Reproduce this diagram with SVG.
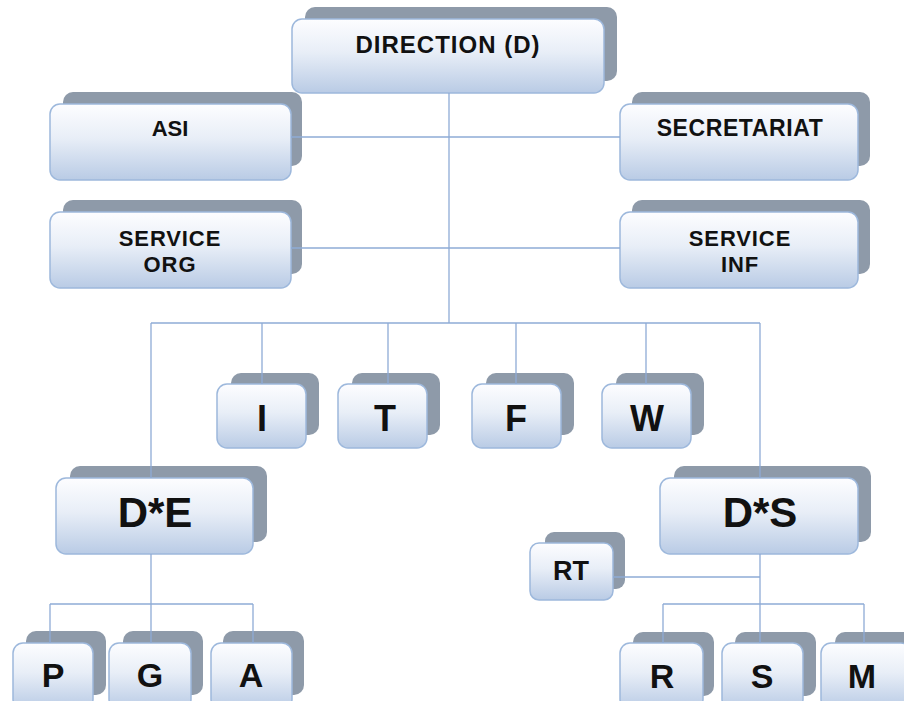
<svg xmlns="http://www.w3.org/2000/svg" width="904" height="701" viewBox="0 0 904 701">
<defs>
<linearGradient id="g" x1="0" y1="0" x2="0" y2="1">
<stop offset="0" stop-color="#fdfdff"/>
<stop offset="0.45" stop-color="#e8eef7"/>
<stop offset="1" stop-color="#b9cbe5"/>
</linearGradient>
<style>
.sh{fill:#8e9aa9}
.fr{fill:url(#g);stroke:#9db8dc;stroke-width:1.5}
.t{font-family:"Liberation Sans",Arial,sans-serif;font-weight:bold;fill:#111;text-anchor:middle}
.conn{stroke:#8eabd6;stroke-width:1.3;fill:none}
</style>
</defs>
<rect width="904" height="701" fill="#fff"/>

<g id="direction">
<rect class="sh" x="305" y="7" width="312" height="74" rx="10"/>
<rect class="fr" x="292" y="19" width="312" height="74" rx="10"/>
<text class="t" x="448" y="53" font-size="24" letter-spacing="1">DIRECTION (D)</text>
</g>
<g id="asi">
<rect class="sh" x="63" y="92" width="239" height="74" rx="10"/>
<rect class="fr" x="50" y="104" width="241" height="76" rx="10"/>
<text class="t" x="170" y="136" font-size="22">ASI</text>
</g>
<g id="secretariat">
<rect class="sh" x="632" y="92" width="238" height="74" rx="10"/>
<rect class="fr" x="620" y="104" width="238" height="76" rx="10"/>
<text class="t" x="740" y="136" font-size="23" letter-spacing="0.6">SECRETARIAT</text>
</g>
<g id="service-org">
<rect class="sh" x="63" y="200" width="239" height="74" rx="10"/>
<rect class="fr" x="50" y="212" width="241" height="76" rx="10"/>
<text class="t" x="170" y="246" font-size="22" letter-spacing="0.9">SERVICE</text>
<text class="t" x="170" y="272" font-size="22" letter-spacing="0.9">ORG</text>
</g>
<g id="service-inf">
<rect class="sh" x="632" y="200" width="238" height="74" rx="10"/>
<rect class="fr" x="620" y="212" width="238" height="76" rx="10"/>
<text class="t" x="740" y="246" font-size="22" letter-spacing="0.9">SERVICE</text>
<text class="t" x="740" y="272" font-size="22" letter-spacing="0.9">INF</text>
</g>

<g id="i">
<rect class="sh" x="231" y="373" width="88" height="62" rx="10"/>
<rect class="fr" x="217" y="384" width="89" height="64" rx="10"/>
<text class="t" x="262" y="431" font-size="36">I</text>
</g>
<g id="t">
<rect class="sh" x="352" y="373" width="88" height="62" rx="10"/>
<rect class="fr" x="338" y="384" width="89" height="64" rx="10"/>
<text class="t" x="385" y="431" font-size="36">T</text>
</g>
<g id="f">
<rect class="sh" x="486" y="373" width="88" height="62" rx="10"/>
<rect class="fr" x="472" y="384" width="89" height="64" rx="10"/>
<text class="t" x="516" y="431" font-size="36">F</text>
</g>
<g id="w">
<rect class="sh" x="616" y="373" width="88" height="62" rx="10"/>
<rect class="fr" x="602" y="384" width="89" height="64" rx="10"/>
<text class="t" x="647" y="431" font-size="36">W</text>
</g>

<g id="de">
<rect class="sh" x="70" y="466" width="197" height="76" rx="10"/>
<rect class="fr" x="56" y="478" width="197" height="76" rx="10"/>
<text class="t" x="155" y="527" font-size="42">D*E</text>
</g>
<g id="ds">
<rect class="sh" x="674" y="466" width="197" height="76" rx="10"/>
<rect class="fr" x="660" y="478" width="198" height="76" rx="10"/>
<text class="t" x="760" y="527" font-size="42">D*S</text>
</g>

<g id="rt">
<rect class="sh" x="545" y="532" width="80" height="57" rx="9"/>
<rect class="fr" x="530" y="543" width="83" height="57" rx="9"/>
<text class="t" x="571" y="580" font-size="27">RT</text>
</g>

<g id="p">
<rect class="sh" x="26" y="631" width="80" height="64" rx="10"/>
<rect class="fr" x="13" y="643" width="80" height="66" rx="10"/>
<text class="t" x="53" y="687" font-size="34">P</text>
</g>
<g id="g-node">
<rect class="sh" x="123" y="631" width="80" height="64" rx="10"/>
<rect class="fr" x="109" y="643" width="82" height="66" rx="10"/>
<text class="t" x="150" y="687" font-size="34">G</text>
</g>
<g id="a">
<rect class="sh" x="223" y="631" width="81" height="64" rx="10"/>
<rect class="fr" x="211" y="643" width="81" height="66" rx="10"/>
<text class="t" x="251" y="687" font-size="34">A</text>
</g>

<g id="r">
<rect class="sh" x="633" y="632" width="81" height="64" rx="10"/>
<rect class="fr" x="620" y="643" width="83" height="66" rx="10"/>
<text class="t" x="662" y="688" font-size="34">R</text>
</g>
<g id="s">
<rect class="sh" x="735" y="632" width="81" height="64" rx="10"/>
<rect class="fr" x="722" y="643" width="81" height="66" rx="10"/>
<text class="t" x="762" y="688" font-size="34">S</text>
</g>
<g id="m">
<rect class="sh" x="835" y="632" width="81" height="64" rx="10"/>
<rect class="fr" x="821" y="643" width="90" height="66" rx="10"/>
<text class="t" x="862" y="688" font-size="34">M</text>
</g>

<g id="connectors" class="conn">
<path d="M449 93V323"/>
<path d="M291 137H620"/>
<path d="M291 248H620"/>
<path d="M151 323H760"/>
<path d="M151 323V478"/>
<path d="M262 323V384"/>
<path d="M388 323V384"/>
<path d="M516 323V384"/>
<path d="M646 323V384"/>
<path d="M760 323V478"/>
<path d="M151 554V643"/>
<path d="M50 604H253"/>
<path d="M50 604V643"/>
<path d="M253 604V643"/>
<path d="M760 554V643"/>
<path d="M613 577H760"/>
<path d="M663 604H864"/>
<path d="M663 604V643"/>
<path d="M864 604V643"/>
</g>
</svg>
